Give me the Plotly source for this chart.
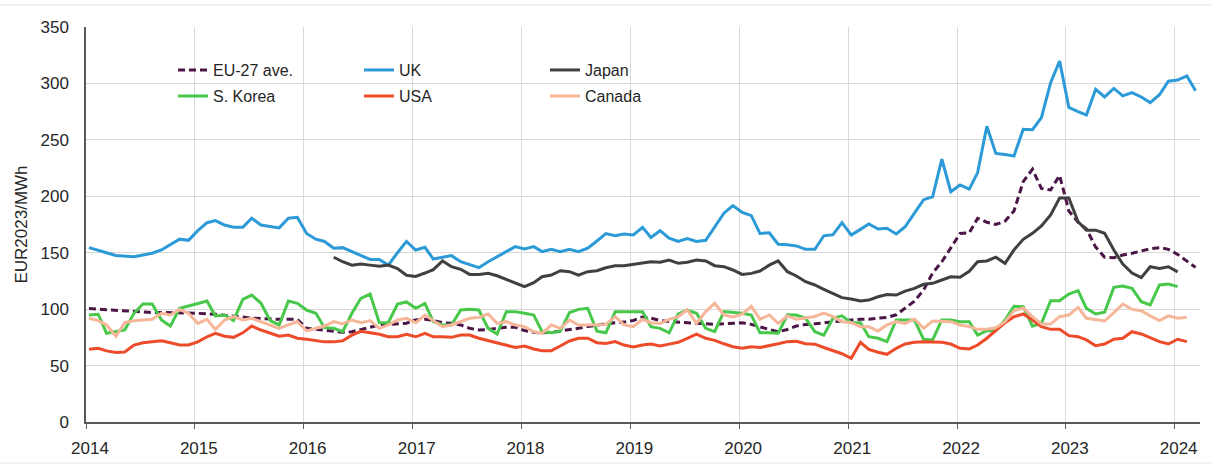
import pandas as pd
import plotly.graph_objects as go

# ---------------- data (monthly, EUR2023/MWh) ----------------
series_start = "2014-01"
japan_start = "2016-04"
years = list(range(2014, 2025))
year_labels = [str(y) for y in years]

eu27 = [100.5, 100, 99.5, 98.5, 98, 97.5, 97.3, 97, 97, 97, 97, 96.5,
        96.3, 96, 95.5, 94.5, 94, 93, 92, 91.5, 91, 91, 91, 91,
        83, 82, 81, 80, 79.5, 80, 82, 84.5, 86, 86.5, 87, 87.5,
        90.5, 91, 90, 88, 87.5, 86, 83, 81.5, 82, 83, 84, 84,
        81, 79.5, 79, 79.5, 80.5, 82, 83, 84.5, 86, 87, 88, 88.5,
        90, 93, 92, 90, 89, 88.5, 88, 87, 86.5, 86.5, 87, 87.5,
        88, 86.5, 84, 82, 80, 82, 85, 86.5, 87, 88, 89, 90,
        90.4, 91, 91, 92, 92.7, 95, 101, 107, 117, 132, 142, 154,
        167, 167.7, 180.5, 177, 175, 178, 187, 213, 224, 207, 205.6, 218.5,
        187, 177, 171, 155, 146, 145.5, 148, 149.5, 151.5, 153.5, 154.5, 153,
        148.5, 142.5, 137]

uk = [154.5, 152.4, 150, 147.5, 147, 146.5, 148, 149.5, 152.4, 156.8, 162, 161,
      169.5, 176.6, 178.4, 174.5, 172.5, 172.5, 180.5, 174.5, 173, 172, 180.5, 181.4,
      167, 162, 160, 154, 154.5, 151, 147, 144, 144, 139, 150, 160,
      152.4, 154.8, 144.4, 145.6, 147.4, 142, 139.5, 136.7, 142, 146.5, 151.5, 155.4,
      153.3, 155.4, 151, 153, 151, 153, 151, 154, 160.4, 167, 165, 166.6,
      165.7, 172.5, 163.6, 169.5, 162.8, 160, 162.5, 160, 161, 173, 185, 191.7,
      185.8, 182.8, 167, 167.7, 157.5, 157, 156, 153, 153, 165, 166, 176.6,
      165.7, 170.7, 175.4, 171, 171.6, 166.6, 173, 185, 197, 199.6, 233, 204,
      210, 206.4, 221, 262, 238, 237, 235.7, 259.3, 259, 269.7, 300.7, 319.9,
      278.8, 275, 272, 294.8, 288, 295.6, 289, 291.8, 288, 283, 290, 302,
      303, 306.6, 293.6]

japan = [146, 142, 139, 140, 139, 138, 139, 136, 130,
         129, 132, 135, 142.7, 137.6, 135.3, 130.8, 130.8, 131.7, 129.6, 126.4, 122.9,
         119.9, 123.4, 128.7, 130.2, 134, 133.2, 130.2, 133.2, 134, 136.7, 138.5, 138.5,
         139.7, 141.2, 142, 141.5, 143.5, 140.6, 141.5, 143.5, 142.7, 138.5, 137.6, 134.7,
         130.8, 131.7, 133.8, 139, 142.7, 133.2, 129.4, 124.3, 121.4, 117.6, 114, 110.2,
         109, 107.2, 108, 111, 113, 112.5, 116, 118.4, 122, 122.9, 125.8, 128.7,
         128.2, 133.5, 142, 142.7, 146, 140.6, 152.5, 161.9, 167.2, 173.7, 183.4, 198.5,
         198.5, 177.5, 170, 170, 167.2, 152.4, 140, 132, 127.9, 137.6, 136, 137.6,
         133]

s_korea = [94.8, 95.5, 78.6, 80, 81.5, 96.3, 104.5, 104.5, 90.4, 85, 100.7, 102.8,
           105.2, 107.2, 94, 94.8, 89.8, 108.7, 112.5, 105.2, 89.8, 86, 107.2, 105.2,
           99.2, 96.3, 83.6, 83, 80, 96.3, 109.6, 113.4, 88, 88, 104.5, 106.4,
           100.7, 105, 89, 86, 86, 99.2, 99.8, 99.2, 83, 78, 97.8, 97.8,
           96.3, 94.8, 80, 79, 80.5, 97, 99.8, 100.7, 80.5, 79, 97.8, 97.8,
           97.8, 97.8, 84.5, 83, 79, 95.7, 99.2, 96.3, 83, 80, 97.8, 97,
           96.3, 94.8, 79, 79, 78.6, 95, 94.8, 91.9, 80, 77, 92, 94,
           88, 88, 75.6, 74.2, 71.2, 90.4, 90.7, 90.4, 73.3, 72.7, 90.4, 90.4,
           88.9, 88.9, 77.1, 80.9, 80.9, 90.4, 102.5, 102.2, 85, 87.4, 107.5, 107.5,
           113.4, 116.4, 100.7, 95.7, 97.2, 119.3, 120.5, 118.4, 106.6, 103.7, 121.4, 122.3,
           119.9]

usa = [64.4, 65.3, 63, 61.6, 62, 68.2, 70.2, 71, 72, 70.2, 68.2, 68.2,
       71, 75.5, 78.5, 76, 75, 79, 85, 81.5, 79, 76, 77, 74.2,
       73.3, 72, 71, 71, 72, 77, 80.4, 79, 77.7, 75.5, 75.5, 77.7,
       75.5, 78.5, 75.5, 75.5, 75, 77, 77, 74.2, 72, 70.3, 68.2, 66,
       67.3, 64.7, 63.2, 63.2, 67.3, 71.8, 74.2, 74.2, 70.3, 69.6, 71.2, 68.2,
       66.5, 68.2, 69, 67.4, 69, 70.6, 74.2, 77.8, 74.2, 72.3, 69.3, 66.7,
       65.3, 66.7, 66, 67.5, 69.3, 71.2, 71.5, 69.3, 69, 66, 63, 60.5,
       56.4, 70.6, 64.4, 61.8, 60, 65.3, 69.1, 70.6, 71.2, 70.6, 70.6, 69.1,
       65.3, 64.7, 68.2, 74.2, 80.9, 88, 93.3, 95.7, 90.4, 84.5, 82.1, 82.1,
       76.5, 75.6, 72.7, 67.6, 69.1, 73.3, 74.2, 80, 78, 75, 71.2, 69.1,
       73.3, 71.2]

canada = [91.9, 89.8, 86, 76, 88, 89.8, 90.4, 91, 96.3, 94.8, 99.8, 96.3,
          87.4, 91, 82, 90.4, 93.3, 90.4, 91.9, 89, 86, 83, 86, 89,
          80.7, 83, 85, 89, 87, 90.4, 88, 89.8, 83, 86, 90.4, 91.9,
          88, 94.8, 89.8, 84.5, 86, 88.9, 91.9, 92.7, 95.7, 87.4, 88.9, 86,
          84.5, 80, 78.6, 86, 83, 90.4, 86, 86, 86, 86.5, 93.3, 86,
          84.5, 91, 88, 87.4, 91, 93.3, 99.5, 87.4, 97.8, 105.2, 94.8, 93,
          95.5, 102.5, 91, 94.8, 87.4, 94, 91, 92, 93.5, 96.5, 93.3, 88.9,
          88, 84.5, 84.5, 80.6, 86, 88.9, 87.4, 91.3, 83, 89.5, 89.5, 88.9,
          86, 84.5, 82.1, 82.1, 83.5, 88.9, 98.5, 101, 93.3, 86.8, 86.8, 93.3,
          94.8, 101.6, 91.9, 91, 89.5, 96.9, 104.5, 99.8, 98.6, 94, 89.8, 94,
          91.9, 92.7]


def month_axis(start, n):
    # monthly observations, plotted a third of a month into each month
    return pd.date_range(start, periods=n, freq="MS") + pd.Timedelta(days=10)


FONT = "Liberation Sans, Arial, sans-serif"

fig = go.Figure()
specs = [
    ("EU-27 ave.", series_start, eu27, "#4B1646", "7px,4px", "legend"),
    ("UK", series_start, uk, "#2B9AD6", "solid", "legend"),
    ("Japan", japan_start, japan, "#404040", "solid", "legend"),
    ("S. Korea", series_start, s_korea, "#47C84B", "solid", "legend2"),
    ("USA", series_start, usa, "#EE4B2B", "solid", "legend2"),
    ("Canada", series_start, canada, "#F5B699", "solid", "legend2"),
]
for name, st, vals, color, dash, lg in specs:
    fig.add_trace(go.Scatter(
        x=month_axis(st, len(vals)), y=vals, name=name, mode="lines",
        line=dict(color=color, width=3, dash=dash),
        legend=lg,
    ))

fig.update_layout(
    width=1211, height=468,
    margin=dict(l=86, r=11, t=27, b=46),
    plot_bgcolor="white", paper_bgcolor="white",
    font=dict(family=FONT, size=16, color="#262626"),
    xaxis=dict(
        type="date", range=["2014-01-01", "2024-03-26"],
        tickvals=[f"{y}-01-01" for y in years], ticktext=year_labels,
        showgrid=True, gridcolor="#D9D9D9", gridwidth=1,
        showline=True, linecolor="#595959", linewidth=1.5,
        ticks="outside", ticklen=5, tickcolor="#595959", tickwidth=1,
        zeroline=False, tickfont=dict(size=17),
        ticklabelstandoff=5, ticklabelshift=4,
    ),
    yaxis=dict(
        range=[0, 350], tickvals=[0, 50, 100, 150, 200, 250, 300, 350],
        showgrid=True, gridcolor="#D9D9D9", gridwidth=1,
        showline=True, linecolor="#595959", linewidth=1.5,
        ticks="", zeroline=False, tickfont=dict(size=17),
        ticklabelstandoff=12,
        title=dict(text="EUR2023/MWh", font=dict(size=17), standoff=9),
    ),
    legend=dict(orientation="h", x=0.0781, y=0.891, xanchor="left", yanchor="middle",
                entrywidth=141, bgcolor="rgba(0,0,0,0)", font=dict(size=16)),
    legend2=dict(orientation="h", x=0.0781, y=0.825, xanchor="left", yanchor="middle",
                 entrywidth=141, bgcolor="rgba(0,0,0,0)", font=dict(size=16)),
    showlegend=True,
)

# faint worksheet borders above and below the chart
for yp in (1.0557, -0.1038):
    fig.add_shape(type="line", xref="paper", yref="paper", x0=-0.0772, x1=1.0099,
                  y0=yp, y1=yp, line=dict(color="#E6E6E6", width=1), layer="below")

fig.write_html("out.html", config={"displayModeBar": False},
               post_script="document.body.style.margin='0';")
